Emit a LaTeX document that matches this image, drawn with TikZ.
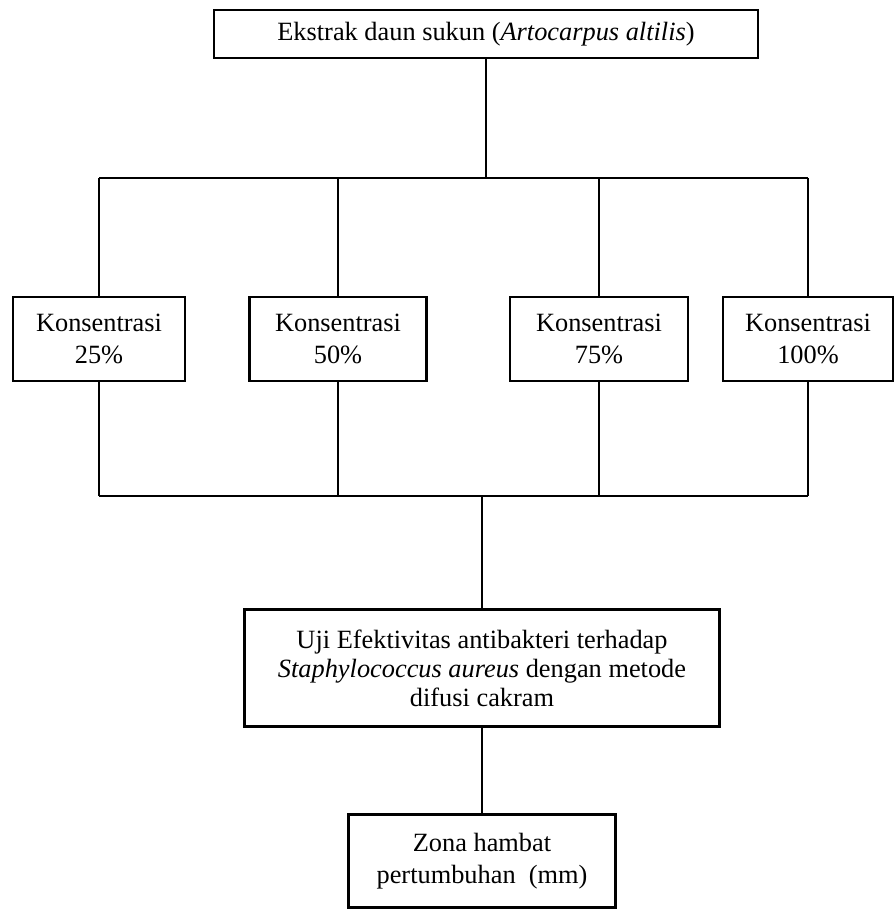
\documentclass[tikz,border=0pt]{standalone}
\usepackage{fontspec}
\setmainfont{Liberation Serif}
\usetikzlibrary{
  calc, % For coordinate calculations
  positioning
}

\begin{document}
\begin{tikzpicture}[
      x=0.02cm, y=-0.02cm, % 1 unit = 1 pixel of the sketch
      line width=1pt, % Default line thickness
      kotak/.style={draw, line width=1.2pt, align=center, inner sep=2pt,
        font=\fontsize{15}{18}\selectfont}, % Style for the boxes
      konsen/.style={kotak, minimum height=1.68cm}, % Style for the concentration boxes
    ]

    % Rahmen
    \useasboundingbox (0,0) rectangle (894,911);

    % Kotak atas
    \node[kotak, minimum width=10.88cm, minimum height=0.96cm] (ekstrak) at (486,34)
      {Ekstrak daun sukun (\textit{Artocarpus altilis})};

    % Kotak konsentrasi
    \node[konsen, minimum width=3.44cm] (k1) at (99,339) {Konsentrasi\\25\%};
    \node[konsen, minimum width=3.54cm] (k2) at (338,339) {Konsentrasi\\50\%};
    \node[konsen, minimum width=3.56cm] (k3) at (599,339) {Konsentrasi\\75\%};
    \node[konsen, minimum width=3.40cm] (k4) at (808,339) {Konsentrasi\\100\%};

    % Uji
    \node[kotak, minimum width=9.5cm, minimum height=2.34cm,
      font=\fontsize{15}{16.5}\selectfont] (uji) at (482,668)
      {Uji Efektivitas antibakteri terhadap\\
       \textit{Staphylococcus aureus} dengan metode\\
       difusi cakram};

    % Hasil
    \node[kotak, minimum width=5.34cm, minimum height=1.86cm] (zona) at (482,861)
      {Zona hambat\\pertumbuhan~~(mm)};

    % Garis cabang
    \coordinate (atas) at (0,178);
    \coordinate (bawah) at (0,496);

    \draw (ekstrak.south) -- (ekstrak.south |- atas);
    \draw (k1.north |- atas) -- (k4.north |- atas);
    \draw (k1.south |- bawah) -- (k4.south |- bawah);
    \foreach \k in {k1, k2, k3, k4} {
      \draw (\k.north |- atas) -- (\k.north);
      \draw (\k.south) -- (\k.south |- bawah);
    }
    \draw (uji.north |- bawah) -- (uji.north);
    \draw (uji.south) -- (zona.north);
  \end{tikzpicture}
\end{document}
